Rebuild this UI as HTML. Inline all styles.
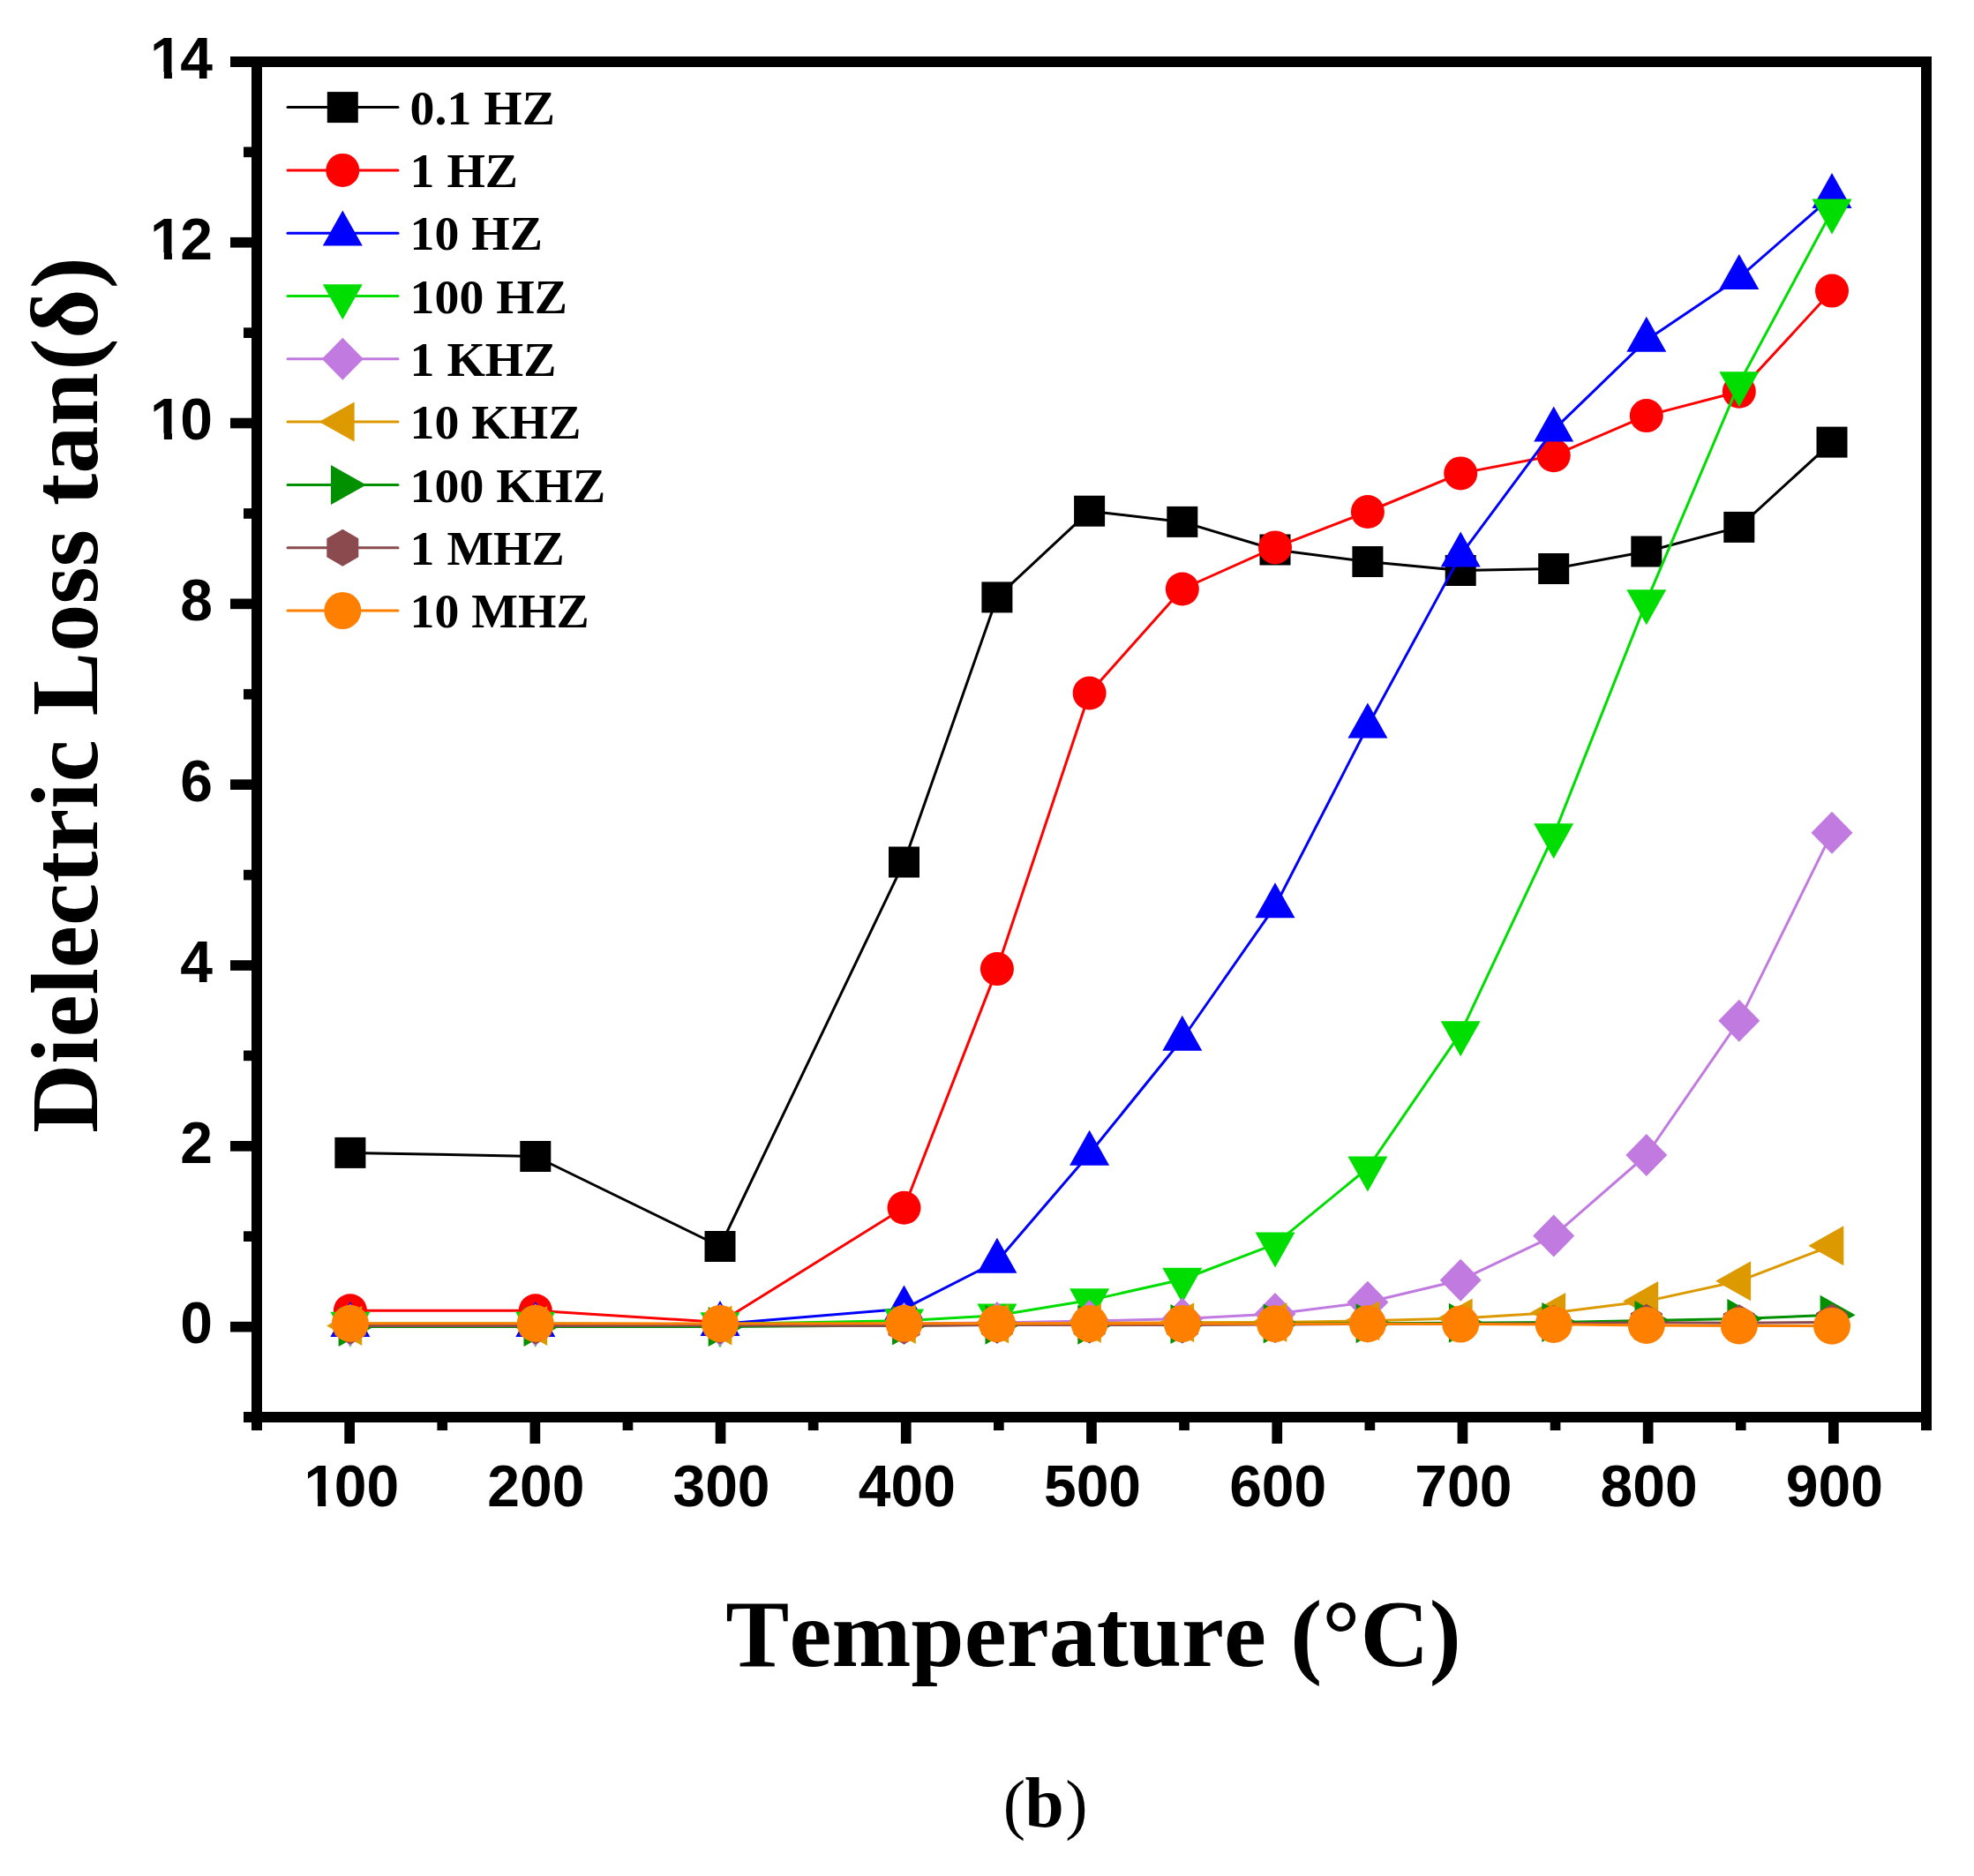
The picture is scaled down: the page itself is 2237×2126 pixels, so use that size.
<!DOCTYPE html>
<html lang="en">
<head>
<meta charset="utf-8">
<title>Dielectric Loss tan(δ) vs Temperature</title>
<style>
html,body{margin:0;padding:0;background:#fff}
body{width:2237px;height:2126px;overflow:hidden}
svg{display:block}
</style>
</head>
<body>
<svg width="2237" height="2126" viewBox="0 0 2237 2126">
<rect width="2237" height="2126" fill="#fff"/>
<g id="series" stroke-linejoin="round" stroke-linecap="round">
<polyline points="396.9,1306.4 606.8,1310.5 816,1412.5 1024.5,977 1129.9,676.9 1234.6,579.2 1339.8,591.4 1445,623 1549.9,636.5 1655.2,646.5 1760.7,644.5 1865.8,625 1970.8,597.4 2076,501.1" fill="none" stroke="#000000" stroke-width="3"/>
<rect x="379.4" y="1288.9" width="35" height="35" fill="#000000"/>
<rect x="589.3" y="1293" width="35" height="35" fill="#000000"/>
<rect x="798.5" y="1395" width="35" height="35" fill="#000000"/>
<rect x="1007" y="959.5" width="35" height="35" fill="#000000"/>
<rect x="1112.4" y="659.4" width="35" height="35" fill="#000000"/>
<rect x="1217.1" y="561.7" width="35" height="35" fill="#000000"/>
<rect x="1322.3" y="573.9" width="35" height="35" fill="#000000"/>
<rect x="1427.5" y="605.5" width="35" height="35" fill="#000000"/>
<rect x="1532.4" y="619" width="35" height="35" fill="#000000"/>
<rect x="1637.7" y="629" width="35" height="35" fill="#000000"/>
<rect x="1743.2" y="627" width="35" height="35" fill="#000000"/>
<rect x="1848.3" y="607.5" width="35" height="35" fill="#000000"/>
<rect x="1953.3" y="579.9" width="35" height="35" fill="#000000"/>
<rect x="2058.5" y="483.6" width="35" height="35" fill="#000000"/>
<polyline points="396.9,1485.2 606.8,1485.2 816,1498.5 1024.5,1368.7 1129.9,1098.1 1234.6,785.5 1339.8,667.5 1445,620.4 1549.9,580 1655.2,536.4 1760.7,516.2 1865.8,471.1 1970.8,443.8 2076,329.6" fill="none" stroke="#FF0000" stroke-width="3"/>
<circle cx="396.9" cy="1485.2" r="19" fill="#FF0000"/>
<circle cx="606.8" cy="1485.2" r="19" fill="#FF0000"/>
<circle cx="816" cy="1498.5" r="19" fill="#FF0000"/>
<circle cx="1024.5" cy="1368.7" r="19" fill="#FF0000"/>
<circle cx="1129.9" cy="1098.1" r="19" fill="#FF0000"/>
<circle cx="1234.6" cy="785.5" r="19" fill="#FF0000"/>
<circle cx="1339.8" cy="667.5" r="19" fill="#FF0000"/>
<circle cx="1445" cy="620.4" r="19" fill="#FF0000"/>
<circle cx="1549.9" cy="580" r="19" fill="#FF0000"/>
<circle cx="1655.2" cy="536.4" r="19" fill="#FF0000"/>
<circle cx="1760.7" cy="516.2" r="19" fill="#FF0000"/>
<circle cx="1865.8" cy="471.1" r="19" fill="#FF0000"/>
<circle cx="1970.8" cy="443.8" r="19" fill="#FF0000"/>
<circle cx="2076" cy="329.6" r="19" fill="#FF0000"/>
<polyline points="396.9,1501.6 606.8,1501.6 816,1500.5 1024.5,1483.1 1129.9,1429.5 1234.6,1307.5 1339.8,1177.5 1445,1026.9 1549.9,823 1655.2,629.1 1760.7,487.1 1865.8,385.4 1970.8,314.7 2076,222.6" fill="none" stroke="#0000FF" stroke-width="3"/>
<polygon points="396.9,1474.9 419.4,1514.9 374.4,1514.9" fill="#0000FF"/>
<polygon points="606.8,1474.9 629.3,1514.9 584.3,1514.9" fill="#0000FF"/>
<polygon points="816,1473.9 838.5,1513.9 793.5,1513.9" fill="#0000FF"/>
<polygon points="1024.5,1456.5 1047,1496.5 1002,1496.5" fill="#0000FF"/>
<polygon points="1129.9,1402.8 1152.4,1442.8 1107.4,1442.8" fill="#0000FF"/>
<polygon points="1234.6,1280.8 1257.1,1320.8 1212.1,1320.8" fill="#0000FF"/>
<polygon points="1339.8,1150.8 1362.3,1190.8 1317.3,1190.8" fill="#0000FF"/>
<polygon points="1445,1000.3 1467.5,1040.3 1422.5,1040.3" fill="#0000FF"/>
<polygon points="1549.9,796.4 1572.4,836.4 1527.4,836.4" fill="#0000FF"/>
<polygon points="1655.2,602.4 1677.7,642.4 1632.7,642.4" fill="#0000FF"/>
<polygon points="1760.7,460.4 1783.2,500.4 1738.2,500.4" fill="#0000FF"/>
<polygon points="1865.8,358.7 1888.3,398.7 1843.3,398.7" fill="#0000FF"/>
<polygon points="1970.8,288.1 1993.3,328.1 1948.3,328.1" fill="#0000FF"/>
<polygon points="2076,195.9 2098.5,235.9 2053.5,235.9" fill="#0000FF"/>
<polyline points="396.9,1500 606.8,1500 816,1500.5 1024.5,1496.7 1129.9,1490.7 1234.6,1473.6 1339.8,1450 1445,1409.9 1549.9,1323.8 1655.2,1170.6 1760.7,946.5 1865.8,681.6 1970.8,434.5 2076,239" fill="none" stroke="#00DD00" stroke-width="3"/>
<polygon points="396.9,1526.7 419.4,1486.7 374.4,1486.7" fill="#00DD00"/>
<polygon points="606.8,1526.7 629.3,1486.7 584.3,1486.7" fill="#00DD00"/>
<polygon points="816,1527.2 838.5,1487.2 793.5,1487.2" fill="#00DD00"/>
<polygon points="1024.5,1523.4 1047,1483.4 1002,1483.4" fill="#00DD00"/>
<polygon points="1129.9,1517.4 1152.4,1477.4 1107.4,1477.4" fill="#00DD00"/>
<polygon points="1234.6,1500.3 1257.1,1460.3 1212.1,1460.3" fill="#00DD00"/>
<polygon points="1339.8,1476.7 1362.3,1436.7 1317.3,1436.7" fill="#00DD00"/>
<polygon points="1445,1436.6 1467.5,1396.6 1422.5,1396.6" fill="#00DD00"/>
<polygon points="1549.9,1350.5 1572.4,1310.5 1527.4,1310.5" fill="#00DD00"/>
<polygon points="1655.2,1197.3 1677.7,1157.3 1632.7,1157.3" fill="#00DD00"/>
<polygon points="1760.7,973.2 1783.2,933.2 1738.2,933.2" fill="#00DD00"/>
<polygon points="1865.8,708.3 1888.3,668.3 1843.3,668.3" fill="#00DD00"/>
<polygon points="1970.8,461.2 1993.3,421.2 1948.3,421.2" fill="#00DD00"/>
<polygon points="2076,265.6 2098.5,225.6 2053.5,225.6" fill="#00DD00"/>
<polyline points="396.9,1501.6 606.8,1501.6 816,1501.6 1024.5,1500.1 1129.9,1499 1234.6,1497.1 1339.8,1494.5 1445,1488.9 1549.9,1475.8 1655.2,1450.7 1760.7,1400.6 1865.8,1309 1970.8,1156.8 2076,943.7" fill="none" stroke="#C17AE0" stroke-width="3"/>
<polygon points="396.9,1477.6 420.4,1501.6 396.9,1525.6 373.4,1501.6" fill="#C17AE0"/>
<polygon points="606.8,1477.6 630.3,1501.6 606.8,1525.6 583.3,1501.6" fill="#C17AE0"/>
<polygon points="816,1477.6 839.5,1501.6 816,1525.6 792.5,1501.6" fill="#C17AE0"/>
<polygon points="1024.5,1476.1 1048,1500.1 1024.5,1524.1 1001,1500.1" fill="#C17AE0"/>
<polygon points="1129.9,1475 1153.4,1499 1129.9,1523 1106.4,1499" fill="#C17AE0"/>
<polygon points="1234.6,1473.1 1258.1,1497.1 1234.6,1521.1 1211.1,1497.1" fill="#C17AE0"/>
<polygon points="1339.8,1470.5 1363.3,1494.5 1339.8,1518.5 1316.3,1494.5" fill="#C17AE0"/>
<polygon points="1445,1464.9 1468.5,1488.9 1445,1512.9 1421.5,1488.9" fill="#C17AE0"/>
<polygon points="1549.9,1451.8 1573.4,1475.8 1549.9,1499.8 1526.4,1475.8" fill="#C17AE0"/>
<polygon points="1655.2,1426.7 1678.7,1450.7 1655.2,1474.7 1631.7,1450.7" fill="#C17AE0"/>
<polygon points="1760.7,1376.6 1784.2,1400.6 1760.7,1424.6 1737.2,1400.6" fill="#C17AE0"/>
<polygon points="1865.8,1285 1889.3,1309 1865.8,1333 1842.3,1309" fill="#C17AE0"/>
<polygon points="1970.8,1132.8 1994.3,1156.8 1970.8,1180.8 1947.3,1156.8" fill="#C17AE0"/>
<polygon points="2076,919.7 2099.5,943.7 2076,967.7 2052.5,943.7" fill="#C17AE0"/>
<polyline points="396.9,1502.4 606.8,1502.4 816,1502.1 1024.5,1500.5 1129.9,1500 1234.6,1499.5 1339.8,1498.8 1445,1498.5 1549.9,1496.8 1655.2,1494.1 1760.7,1487.6 1865.8,1474.6 1970.8,1451.8 2076,1411.7" fill="none" stroke="#DD9900" stroke-width="3"/>
<polygon points="370.2,1502.4 410.2,1479.9 410.2,1524.9" fill="#DD9900"/>
<polygon points="580.2,1502.4 620.2,1479.9 620.2,1524.9" fill="#DD9900"/>
<polygon points="789.4,1502.1 829.4,1479.6 829.4,1524.6" fill="#DD9900"/>
<polygon points="997.8,1500.5 1037.8,1478 1037.8,1523" fill="#DD9900"/>
<polygon points="1103.2,1500 1143.2,1477.5 1143.2,1522.5" fill="#DD9900"/>
<polygon points="1207.9,1499.5 1247.9,1477 1247.9,1522" fill="#DD9900"/>
<polygon points="1313.1,1498.8 1353.1,1476.3 1353.1,1521.3" fill="#DD9900"/>
<polygon points="1418.3,1498.5 1458.3,1476 1458.3,1521" fill="#DD9900"/>
<polygon points="1523.3,1496.8 1563.3,1474.3 1563.3,1519.3" fill="#DD9900"/>
<polygon points="1628.6,1494.1 1668.6,1471.6 1668.6,1516.6" fill="#DD9900"/>
<polygon points="1734.1,1487.6 1774.1,1465.1 1774.1,1510.1" fill="#DD9900"/>
<polygon points="1839.2,1474.6 1879.2,1452.1 1879.2,1497.1" fill="#DD9900"/>
<polygon points="1944.1,1451.8 1984.1,1429.3 1984.1,1474.3" fill="#DD9900"/>
<polygon points="2049.3,1411.7 2089.3,1389.2 2089.3,1434.2" fill="#DD9900"/>
<polyline points="396.9,1503.6 606.8,1503.6 816,1503.6 1024.5,1502 1129.9,1501.2 1234.6,1501.2 1339.8,1500.5 1445,1500 1549.9,1499.7 1655.2,1499.2 1760.7,1498.5 1865.8,1496.4 1970.8,1494.4 2076,1490.3" fill="none" stroke="#009000" stroke-width="3"/>
<polygon points="423.6,1503.6 383.6,1481.1 383.6,1526.1" fill="#009000"/>
<polygon points="633.5,1503.6 593.5,1481.1 593.5,1526.1" fill="#009000"/>
<polygon points="842.7,1503.6 802.7,1481.1 802.7,1526.1" fill="#009000"/>
<polygon points="1051.1,1502 1011.1,1479.5 1011.1,1524.5" fill="#009000"/>
<polygon points="1156.5,1501.2 1116.5,1478.7 1116.5,1523.7" fill="#009000"/>
<polygon points="1261.3,1501.2 1221.3,1478.7 1221.3,1523.7" fill="#009000"/>
<polygon points="1366.5,1500.5 1326.5,1478 1326.5,1523" fill="#009000"/>
<polygon points="1471.7,1500 1431.7,1477.5 1431.7,1522.5" fill="#009000"/>
<polygon points="1576.6,1499.7 1536.6,1477.2 1536.6,1522.2" fill="#009000"/>
<polygon points="1681.9,1499.2 1641.9,1476.7 1641.9,1521.7" fill="#009000"/>
<polygon points="1787.4,1498.5 1747.4,1476 1747.4,1521" fill="#009000"/>
<polygon points="1892.5,1496.4 1852.5,1473.9 1852.5,1518.9" fill="#009000"/>
<polygon points="1997.4,1494.4 1957.4,1471.9 1957.4,1516.9" fill="#009000"/>
<polygon points="2102.6,1490.3 2062.6,1467.8 2062.6,1512.8" fill="#009000"/>
<polyline points="396.9,1502.4 606.8,1502.4 816,1502.1 1024.5,1502.6 1129.9,1501.6 1234.6,1501.6 1339.8,1501.6 1445,1501 1549.9,1500.5 1655.2,1500.2 1760.7,1500 1865.8,1498.8 1970.8,1499.3 2076,1498.5" fill="none" stroke="#8B4A4D" stroke-width="3"/>
<polygon points="396.9,1481.4 414.9,1491.9 414.9,1512.9 396.9,1523.4 378.9,1512.9 378.9,1491.9" fill="#8B4A4D"/>
<polygon points="606.8,1481.4 624.8,1491.9 624.8,1512.9 606.8,1523.4 588.8,1512.9 588.8,1491.9" fill="#8B4A4D"/>
<polygon points="816,1481.1 834,1491.6 834,1512.6 816,1523.1 798,1512.6 798,1491.6" fill="#8B4A4D"/>
<polygon points="1024.5,1481.6 1042.5,1492.1 1042.5,1513.1 1024.5,1523.6 1006.5,1513.1 1006.5,1492.1" fill="#8B4A4D"/>
<polygon points="1129.9,1480.6 1147.9,1491.1 1147.9,1512.1 1129.9,1522.6 1111.9,1512.1 1111.9,1491.1" fill="#8B4A4D"/>
<polygon points="1234.6,1480.6 1252.6,1491.1 1252.6,1512.1 1234.6,1522.6 1216.6,1512.1 1216.6,1491.1" fill="#8B4A4D"/>
<polygon points="1339.8,1480.6 1357.8,1491.1 1357.8,1512.1 1339.8,1522.6 1321.8,1512.1 1321.8,1491.1" fill="#8B4A4D"/>
<polygon points="1445,1480 1463,1490.5 1463,1511.5 1445,1522 1427,1511.5 1427,1490.5" fill="#8B4A4D"/>
<polygon points="1549.9,1479.5 1567.9,1490 1567.9,1511 1549.9,1521.5 1531.9,1511 1531.9,1490" fill="#8B4A4D"/>
<polygon points="1655.2,1479.2 1673.2,1489.7 1673.2,1510.7 1655.2,1521.2 1637.2,1510.7 1637.2,1489.7" fill="#8B4A4D"/>
<polygon points="1760.7,1479 1778.7,1489.5 1778.7,1510.5 1760.7,1521 1742.7,1510.5 1742.7,1489.5" fill="#8B4A4D"/>
<polygon points="1865.8,1477.8 1883.8,1488.3 1883.8,1509.3 1865.8,1519.8 1847.8,1509.3 1847.8,1488.3" fill="#8B4A4D"/>
<polygon points="1970.8,1478.3 1988.8,1488.8 1988.8,1509.8 1970.8,1520.3 1952.8,1509.8 1952.8,1488.8" fill="#8B4A4D"/>
<polygon points="2076,1477.5 2094,1488 2094,1509 2076,1519.5 2058,1509 2058,1488" fill="#8B4A4D"/>
<polyline points="396.9,1499.8 606.8,1499.8 816,1500 1024.5,1499.8 1129.9,1500 1234.6,1500 1339.8,1500 1445,1500.2 1549.9,1500.2 1655.2,1500.5 1760.7,1500.9 1865.8,1501.9 1970.8,1502.4 2076,1502.7" fill="none" stroke="#FF8000" stroke-width="3"/>
<circle cx="396.9" cy="1499.8" r="21" fill="#FF8000"/>
<circle cx="606.8" cy="1499.8" r="21" fill="#FF8000"/>
<circle cx="816" cy="1500" r="21" fill="#FF8000"/>
<circle cx="1024.5" cy="1499.8" r="21" fill="#FF8000"/>
<circle cx="1129.9" cy="1500" r="21" fill="#FF8000"/>
<circle cx="1234.6" cy="1500" r="21" fill="#FF8000"/>
<circle cx="1339.8" cy="1500" r="21" fill="#FF8000"/>
<circle cx="1445" cy="1500.2" r="21" fill="#FF8000"/>
<circle cx="1549.9" cy="1500.2" r="21" fill="#FF8000"/>
<circle cx="1655.2" cy="1500.5" r="21" fill="#FF8000"/>
<circle cx="1760.7" cy="1500.9" r="21" fill="#FF8000"/>
<circle cx="1865.8" cy="1501.9" r="21" fill="#FF8000"/>
<circle cx="1970.8" cy="1502.4" r="21" fill="#FF8000"/>
<circle cx="2076" cy="1502.7" r="21" fill="#FF8000"/>
</g>
<g id="axes" fill="#000">
<rect x="261" y="64" width="1928" height="12"/>
<rect x="276" y="1600" width="1913" height="12"/>
<rect x="285" y="64" width="12" height="1557"/>
<rect x="2177" y="64" width="12" height="1557"/>
<rect x="261" y="1497.8" width="30" height="11.7"/>
<rect x="276" y="1395.3" width="15" height="11.7"/>
<rect x="261" y="1293" width="30" height="11.7"/>
<rect x="276" y="1190.5" width="15" height="11.7"/>
<rect x="261" y="1088.2" width="30" height="11.7"/>
<rect x="276" y="985.7" width="15" height="11.7"/>
<rect x="261" y="883.3" width="30" height="11.7"/>
<rect x="276" y="780.9" width="15" height="11.7"/>
<rect x="261" y="678.5" width="30" height="11.7"/>
<rect x="276" y="576.1" width="15" height="11.7"/>
<rect x="261" y="473.7" width="30" height="11.7"/>
<rect x="276" y="371.3" width="15" height="11.7"/>
<rect x="261" y="268.9" width="30" height="11.7"/>
<rect x="276" y="166.5" width="15" height="11.7"/>
<rect x="390.3" y="1606" width="11.7" height="30"/>
<rect x="495.4" y="1606" width="11.7" height="15"/>
<rect x="600.5" y="1606" width="11.7" height="30"/>
<rect x="705.6" y="1606" width="11.7" height="15"/>
<rect x="810.7" y="1606" width="11.7" height="30"/>
<rect x="915.8" y="1606" width="11.7" height="15"/>
<rect x="1020.9" y="1606" width="11.7" height="30"/>
<rect x="1126" y="1606" width="11.7" height="15"/>
<rect x="1231.1" y="1606" width="11.7" height="30"/>
<rect x="1336.2" y="1606" width="11.7" height="15"/>
<rect x="1441.4" y="1606" width="11.7" height="30"/>
<rect x="1546.5" y="1606" width="11.7" height="15"/>
<rect x="1651.6" y="1606" width="11.7" height="30"/>
<rect x="1756.7" y="1606" width="11.7" height="15"/>
<rect x="1861.8" y="1606" width="11.7" height="30"/>
<rect x="1966.9" y="1606" width="11.7" height="15"/>
<rect x="2072" y="1606" width="11.7" height="30"/>
</g>
<g id="ticklabels" font-family="'Liberation Sans', Arial, sans-serif" font-weight="700" font-size="66" fill="#000">
<text x="241" y="1522.4" text-anchor="end">0</text>
<text x="241" y="1317.6" text-anchor="end">2</text>
<text x="241" y="1112.8" text-anchor="end">4</text>
<text x="241" y="908" text-anchor="end">6</text>
<text x="241" y="703.2" text-anchor="end">8</text>
<text x="169.99 204.29" y="498.4">10</text>
<text x="169.99 204.29" y="293.6">12</text>
<text x="169.99 204.29" y="88.8">14</text>
<text x="344.45 378.76 415.46" y="1707">100</text>
<text x="607.3" y="1707" text-anchor="middle">200</text>
<text x="817.5" y="1707" text-anchor="middle">300</text>
<text x="1027.8" y="1707" text-anchor="middle">400</text>
<text x="1238" y="1707" text-anchor="middle">500</text>
<text x="1448.2" y="1707" text-anchor="middle">600</text>
<text x="1658.4" y="1707" text-anchor="middle">700</text>
<text x="1868.6" y="1707" text-anchor="middle">800</text>
<text x="2078.9" y="1707" text-anchor="middle">900</text>
</g>
<g id="one-foot-mask" fill="#fff">
<rect x="169" y="490.8" width="16.85" height="9"/>
<rect x="194.95" y="490.8" width="10.95" height="9"/>
<rect x="169" y="286" width="16.85" height="9"/>
<rect x="194.95" y="286" width="10.95" height="9"/>
<rect x="169" y="81.2" width="16.85" height="9"/>
<rect x="194.95" y="81.2" width="10.95" height="9"/>
<rect x="344" y="1699.4" width="16.15" height="9"/>
<rect x="369.2" y="1699.4" width="11" height="9"/>
</g>
<g id="legend">
<line x1="326" y1="121.6" x2="451" y2="121.6" stroke="#000000" stroke-width="3" stroke-linecap="round"/>
<rect x="370.8" y="104.1" width="35" height="35" fill="#000000"/>
<text x="464.6" y="140.8" font-family="'Liberation Serif', 'Times New Roman', serif" font-weight="700" font-size="55.8" fill="#000" style="font-kerning:none">0.1 HZ</text>
<line x1="326" y1="192.9" x2="451" y2="192.9" stroke="#FF0000" stroke-width="3" stroke-linecap="round"/>
<circle cx="388.3" cy="192.9" r="19" fill="#FF0000"/>
<text x="464.6" y="212.1" font-family="'Liberation Serif', 'Times New Roman', serif" font-weight="700" font-size="55.8" fill="#000" style="font-kerning:none">1 HZ</text>
<line x1="326" y1="264.2" x2="451" y2="264.2" stroke="#0000FF" stroke-width="3" stroke-linecap="round"/>
<polygon points="388.3,238.5 410.8,278.5 365.8,278.5" fill="#0000FF"/>
<text x="464.6" y="283.4" font-family="'Liberation Serif', 'Times New Roman', serif" font-weight="700" font-size="55.8" fill="#000" style="font-kerning:none">10 HZ</text>
<line x1="326" y1="335.5" x2="451" y2="335.5" stroke="#00DD00" stroke-width="3" stroke-linecap="round"/>
<polygon points="388.3,362.2 410.8,322.2 365.8,322.2" fill="#00DD00"/>
<text x="464.6" y="354.7" font-family="'Liberation Serif', 'Times New Roman', serif" font-weight="700" font-size="55.8" fill="#000" style="font-kerning:none">100 HZ</text>
<line x1="326" y1="406.8" x2="451" y2="406.8" stroke="#C17AE0" stroke-width="3" stroke-linecap="round"/>
<polygon points="388.3,382.8 411.8,406.8 388.3,430.8 364.8,406.8" fill="#C17AE0"/>
<text x="464.6" y="426" font-family="'Liberation Serif', 'Times New Roman', serif" font-weight="700" font-size="55.8" fill="#000" style="font-kerning:none">1 KHZ</text>
<line x1="326" y1="478.1" x2="451" y2="478.1" stroke="#DD9900" stroke-width="3" stroke-linecap="round"/>
<polygon points="361.6,478.1 401.6,455.6 401.6,500.6" fill="#DD9900"/>
<text x="464.6" y="497.3" font-family="'Liberation Serif', 'Times New Roman', serif" font-weight="700" font-size="55.8" fill="#000" style="font-kerning:none">10 KHZ</text>
<line x1="326" y1="549.4" x2="451" y2="549.4" stroke="#009000" stroke-width="3" stroke-linecap="round"/>
<polygon points="415,549.4 375,526.9 375,571.9" fill="#009000"/>
<text x="464.6" y="568.6" font-family="'Liberation Serif', 'Times New Roman', serif" font-weight="700" font-size="55.8" fill="#000" style="font-kerning:none">100 KHZ</text>
<line x1="326" y1="620.7" x2="451" y2="620.7" stroke="#8B4A4D" stroke-width="3" stroke-linecap="round"/>
<polygon points="388.3,599.7 406.3,610.2 406.3,631.2 388.3,641.7 370.3,631.2 370.3,610.2" fill="#8B4A4D"/>
<text x="464.6" y="639.9" font-family="'Liberation Serif', 'Times New Roman', serif" font-weight="700" font-size="55.8" fill="#000" style="font-kerning:none">1 MHZ</text>
<line x1="326" y1="692" x2="451" y2="692" stroke="#FF8000" stroke-width="3" stroke-linecap="round"/>
<circle cx="388.3" cy="692" r="21" fill="#FF8000"/>
<text x="464.6" y="711.2" font-family="'Liberation Serif', 'Times New Roman', serif" font-weight="700" font-size="55.8" fill="#000" style="font-kerning:none">10 MHZ</text>
</g>
<g id="titles" font-family="'Liberation Serif', 'Times New Roman', serif" font-weight="700" fill="#000" style="font-kerning:none">
<text id="xt" x="1239" y="1888" font-size="108" text-anchor="middle" letter-spacing="0.1">Temperature (°C)</text>
<text id="yt" transform="translate(110.3 787.6) rotate(-90)" font-size="108.5" text-anchor="middle">Dielectric Loss tan<tspan dx="2.5">(δ)</tspan></text>
</g>
<text id="cap" y="2069.5" font-family="'Liberation Serif', 'Times New Roman', serif" fill="#000" style="font-kerning:none"><tspan x="1136.7" font-size="76">(</tspan><tspan x="1161.6" font-size="79.5" font-weight="700">b</tspan><tspan x="1207.2" font-size="76">)</tspan></text>
</svg>
</body>
</html>
